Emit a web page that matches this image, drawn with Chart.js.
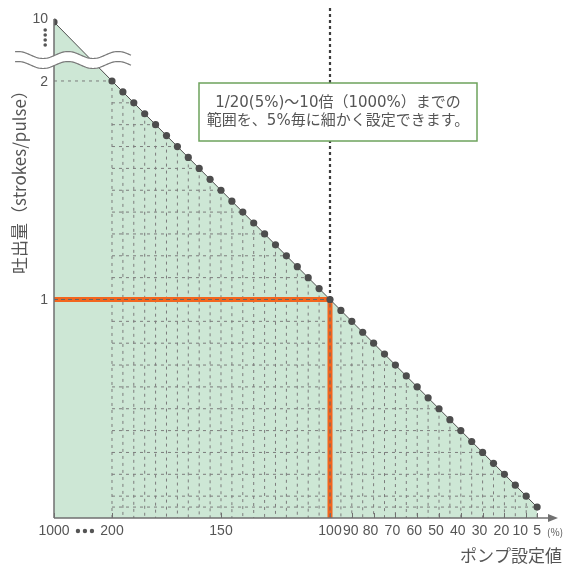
<!DOCTYPE html>
<html lang="ja">
<head>
<meta charset="utf-8">
<title>ポンプ設定値と吐出量</title>
<script src="https://cdn.jsdelivr.net/npm/chart.js@4.4.1/dist/chart.umd.min.js"></script>
<style>
  html, body { margin: 0; padding: 0; background: #fff; }
  #wrap { width: 581px; height: 567px; }
</style>
</head>
<body>
<div id="wrap"><canvas id="pumpChart" width="581" height="567"></canvas></div>
<script>
// Pump setting (%) vs. discharge per pulse - one dot every 5%

const pumpSettings = [1000, 200, 195, 190, 185, 180, 175, 170, 165, 160, 155, 150, 145, 140, 135, 130,
    125, 120, 115, 110, 105, 100, 95, 90, 85, 80, 75, 70, 65, 60, 55, 50, 45, 40, 35, 30, 25, 20, 15, 10, 5];
const strokesPerPulse = [10, 2.00, 1.95, 1.90, 1.85, 1.80, 1.75, 1.70, 1.65, 1.60, 1.55, 1.50, 1.45, 1.40, 1.35, 1.30,
    1.25, 1.20, 1.15, 1.10, 1.05, 1.00, 0.95, 0.90, 0.85, 0.80, 0.75, 0.70, 0.65, 0.60, 0.55, 0.50, 0.45, 0.40, 0.35, 0.30,
    0.25, 0.20, 0.15, 0.10, 0.05];

// horizontal dashed guides (every 0.1 plus the 5% dot)
const guideLevels = [2.0, 1.9, 1.8, 1.7, 1.6, 1.5, 1.4, 1.3, 1.2, 1.1, 1.0, 0.9, 0.8, 0.7, 0.6, 0.5, 0.4, 0.3, 0.2, 0.1, 0.05];

const xTickValues = [1000, 200, 150, 100, 90, 80, 70, 60, 50, 40, 30, 20, 10, 5];
const xTickLabels = ['1000', '200', '150', '100', '90', '80', '70', '60', '50', '40', '30', '20', '10', '5'];
const yTickValues = [10, 2, 1];
const yTickLabels = ['10', '2', '1'];

const highlightSetting = 100;
const highlightOutput = 1;

const noteLines = ['1/20(5%)～10倍（1000%）までの', '範囲を、5%毎に細かく設定できます。'];
const xTitle = 'ポンプ設定値';
const yTitle = '吐出量（strokes/pulse）';

// scale window + broken axis (everything past the break is squeezed to one spot)
const X_MIN = -5.5, X_MAX = 226.6;
const Y_MIN = 0, Y_MAX = 2.334;
const X_BREAK_AT = 200, X_BREAK_POS = X_MAX;
const Y_BREAK_AT = 2, Y_BREAK_POS = 2.27;

const xPos = v => v > X_BREAK_AT ? X_BREAK_POS : v;
const yPos = s => s > Y_BREAK_AT ? Y_BREAK_POS : s;

const GREEN_FILL = '#cde7d5';
const DARK = '#4d4d4d';
const TEXT = '#555555';
const ORANGE = '#f2661f';
const GRID = '#7c7c7c';

// curve points
const curve = pumpSettings.map((v, i) => ({ x: xPos(v), y: yPos(strokesPerPulse[i]) }));

// dashed guides: down from every dot, left from the guide levels
const guides = [];
pumpSettings.forEach((v, i) => {
    if (v > X_BREAK_AT) return;
    const s = strokesPerPulse[i];
    guides.push({ x: v, y: s }, { x: v, y: 0 }, { x: v, y: null });
    if (guideLevels.includes(s)) {
        const left = v === X_BREAK_AT ? X_BREAK_POS : X_BREAK_AT;
        guides.push({ x: left, y: s }, { x: v, y: s }, { x: v, y: null });
    }
});

const highlight = [
    { x: X_BREAK_POS, y: highlightOutput },
    { x: highlightSetting, y: highlightOutput },
    { x: highlightSetting, y: 0 }
];

// wavy line used for the axis break
function wavePath(ctx, x1, x2, y0, amp, period, phase, reverse) {
    if (!reverse) {
        for (let x = x1; x <= x2; x++) {
            const y = y0 - amp * Math.cos(2 * Math.PI * (x - phase) / period);
            if (x === x1) ctx.moveTo(x, y); else ctx.lineTo(x, y);
        }
    } else {
        for (let x = x2; x >= x1; x--) {
            ctx.lineTo(x, y0 - amp * Math.cos(2 * Math.PI * (x - phase) / period));
        }
    }
}

const decorPlugin = {
    id: 'decor',
    afterDatasetsDraw(chart) {
        const ctx = chart.ctx;
        const xs = chart.scales.x, ys = chart.scales.y;
        const area = chart.chartArea;
        const x0 = xs.getPixelForValue(X_BREAK_POS);
        const yBase = ys.getPixelForValue(0);
        const yTop = ys.getPixelForValue(Y_BREAK_POS);
        const numFont = '14px "Liberation Sans", Arial, sans-serif';

        ctx.save();

        // axes
        ctx.strokeStyle = '#707070';
        ctx.lineWidth = 1.5;
        const tipX = area.right - 2;
        ctx.beginPath();
        ctx.moveTo(x0, yBase);
        ctx.lineTo(tipX - 8, yBase);
        ctx.moveTo(x0, yBase);
        ctx.lineTo(x0, yTop - 3);
        ctx.stroke();
        ctx.fillStyle = '#707070';
        ctx.beginPath();
        ctx.moveTo(tipX, yBase);
        ctx.lineTo(tipX - 10, yBase - 4);
        ctx.lineTo(tipX - 10, yBase + 4);
        ctx.closePath();
        ctx.fill();

        // tick marks
        ctx.lineWidth = 1;
        ctx.beginPath();
        xTickValues.forEach(v => {
            const px = Math.round(xs.getPixelForValue(xPos(v))) + 0.5;
            ctx.moveTo(px, yBase);
            ctx.lineTo(px, yBase - 5);
        });
        ctx.stroke();

        // break band
        const bx1 = 15, bx2 = 131, by1 = 55, by2 = 65, amp = 3.5, per = 50, ph = 68;
        ctx.fillStyle = '#ffffff';
        ctx.beginPath();
        wavePath(ctx, bx1, bx2, by1, amp, per, ph, false);
        wavePath(ctx, bx1, bx2, by2, amp, per, ph, true);
        ctx.closePath();
        ctx.fill();
        ctx.strokeStyle = '#7a7a7a';
        ctx.lineWidth = 1.2;
        ctx.beginPath();
        wavePath(ctx, bx1, bx2, by1, amp, per, ph, false);
        ctx.stroke();
        ctx.beginPath();
        wavePath(ctx, bx1, bx2, by2, amp, per, ph, false);
        ctx.stroke();

        // note box
        const bxL = 199, bxT = 83, bxW = 278, bxH = 58;
        ctx.fillStyle = '#ffffff';
        ctx.fillRect(bxL, bxT, bxW, bxH);
        ctx.strokeStyle = '#6da35c';
        ctx.lineWidth = 1.5;
        ctx.strokeRect(bxL, bxT, bxW, bxH);
        ctx.fillStyle = TEXT;
        ctx.font = '15px "DejaVu Sans", "Noto Sans CJK JP", sans-serif';
        ctx.textAlign = 'center';
        ctx.textBaseline = 'middle';
        ctx.fillText(noteLines[0], bxL + bxW / 2, bxT + 20);
        ctx.fillText(noteLines[1], bxL + bxW / 2, bxT + 38);

        // x tick labels (the 80..10 labels sit a touch left of their ticks)
        ctx.font = numFont;
        const labelY = yBase + 13;
        xTickValues.forEach((v, i) => {
            let shift = 0;
            if (v === 90) shift = -1;
            else if (v === 10) shift = -6;
            else if (v < 90 && v > 10) shift = -3;
            ctx.fillText(xTickLabels[i], xs.getPixelForValue(xPos(v)) + shift, labelY);
        });
        // "•••" between 1000 and 200
        const l1000 = x0 + ctx.measureText(xTickLabels[0]).width / 2;
        const x200 = xs.getPixelForValue(200);
        const r200 = x200 - ctx.measureText(xTickLabels[1]).width / 2;
        const mid = (l1000 + r200) / 2;
        ctx.beginPath();
        [-7, 0, 7].forEach(d => { ctx.moveTo(mid + d + 2.2, labelY); ctx.arc(mid + d, labelY, 2.2, 0, Math.PI * 2); });
        ctx.fill();
        // (%)
        ctx.font = '10px "Noto Sans CJK JP", sans-serif';
        ctx.textAlign = 'left';
        ctx.fillText('(%)', xs.getPixelForValue(5) + 10, labelY + 1);

        // y tick labels
        ctx.font = numFont;
        ctx.textAlign = 'right';
        yTickValues.forEach((s, i) => {
            const py = ys.getPixelForValue(yPos(s)) + (s > Y_BREAK_AT ? -3 : 1);
            ctx.fillText(yTickLabels[i], x0 - 6, py);
        });
        // vertical dots under "10"
        ctx.beginPath();
        [30, 35, 40, 45].forEach(py => { ctx.moveTo(47, py); ctx.arc(45.2, py, 1.8, 0, Math.PI * 2); });
        ctx.fill();

        // axis titles
        ctx.font = '17px "Noto Sans CJK JP", sans-serif';
        ctx.textAlign = 'center';
        ctx.fillText(xTitle, 511, 556);

        ctx.translate(20, 178);
        ctx.rotate(-Math.PI / 2);
        ctx.font = '17px "Noto Sans CJK JP", sans-serif';
        ctx.fillText(yTitle, 0, 0);

        ctx.restore();
    }
};

function drawChart() {
    const ctx = document.getElementById('pumpChart').getContext('2d');
    new Chart(ctx, {
        type: 'line',
        data: {
            datasets: [
                {   // curve with dots (top-most)
                    data: curve,
                    borderColor: DARK,
                    borderWidth: 1,
                    pointRadius: 3.6,
                    pointBackgroundColor: DARK,
                    pointBorderWidth: 0,
                    fill: false
                },
                {   // dotted marker at 100%
                    data: [{ x: highlightSetting, y: Y_MAX }, { x: highlightSetting, y: highlightOutput }],
                    borderColor: '#3d3d3d',
                    borderWidth: 2.2,
                    borderDash: [3, 3],
                    pointRadius: 0,
                    fill: false
                },
                {   // dashes over the orange guide
                    data: highlight,
                    borderColor: '#666666',
                    borderWidth: 1,
                    borderDash: [4, 3],
                    pointRadius: 0,
                    fill: false
                },
                {   // orange guide at 100% / 1 stroke
                    data: highlight,
                    borderColor: ORANGE,
                    borderWidth: 5,
                    pointRadius: 0,
                    borderJoinStyle: 'miter',
                    fill: false
                },
                {   // dashed grid
                    data: guides,
                    borderColor: GRID,
                    borderWidth: 1,
                    borderDash: [3, 4],
                    pointRadius: 0,
                    spanGaps: false,
                    fill: false
                },
                {   // green area under the curve
                    data: curve,
                    borderWidth: 0,
                    borderColor: 'rgba(0,0,0,0)',
                    backgroundColor: GREEN_FILL,
                    pointRadius: 0,
                    fill: 'origin'
                }
            ]
        },
        options: {
            responsive: false,
            animation: false,
            events: [],
            layout: { padding: { left: 54, right: 21, top: 8, bottom: 49 } },
            elements: { line: { tension: 0 } },
            plugins: {
                legend: { display: false },
                tooltip: { enabled: false }
            },
            scales: {
                x: { type: 'linear', reverse: true, min: X_MIN, max: X_MAX, display: false },
                y: { type: 'linear', min: Y_MIN, max: Y_MAX, display: false }
            }
        },
        plugins: [decorPlugin]
    });
}

document.fonts.load('16px "Noto Sans CJK JP"').then(drawChart, drawChart);
</script>
</body>
</html>
